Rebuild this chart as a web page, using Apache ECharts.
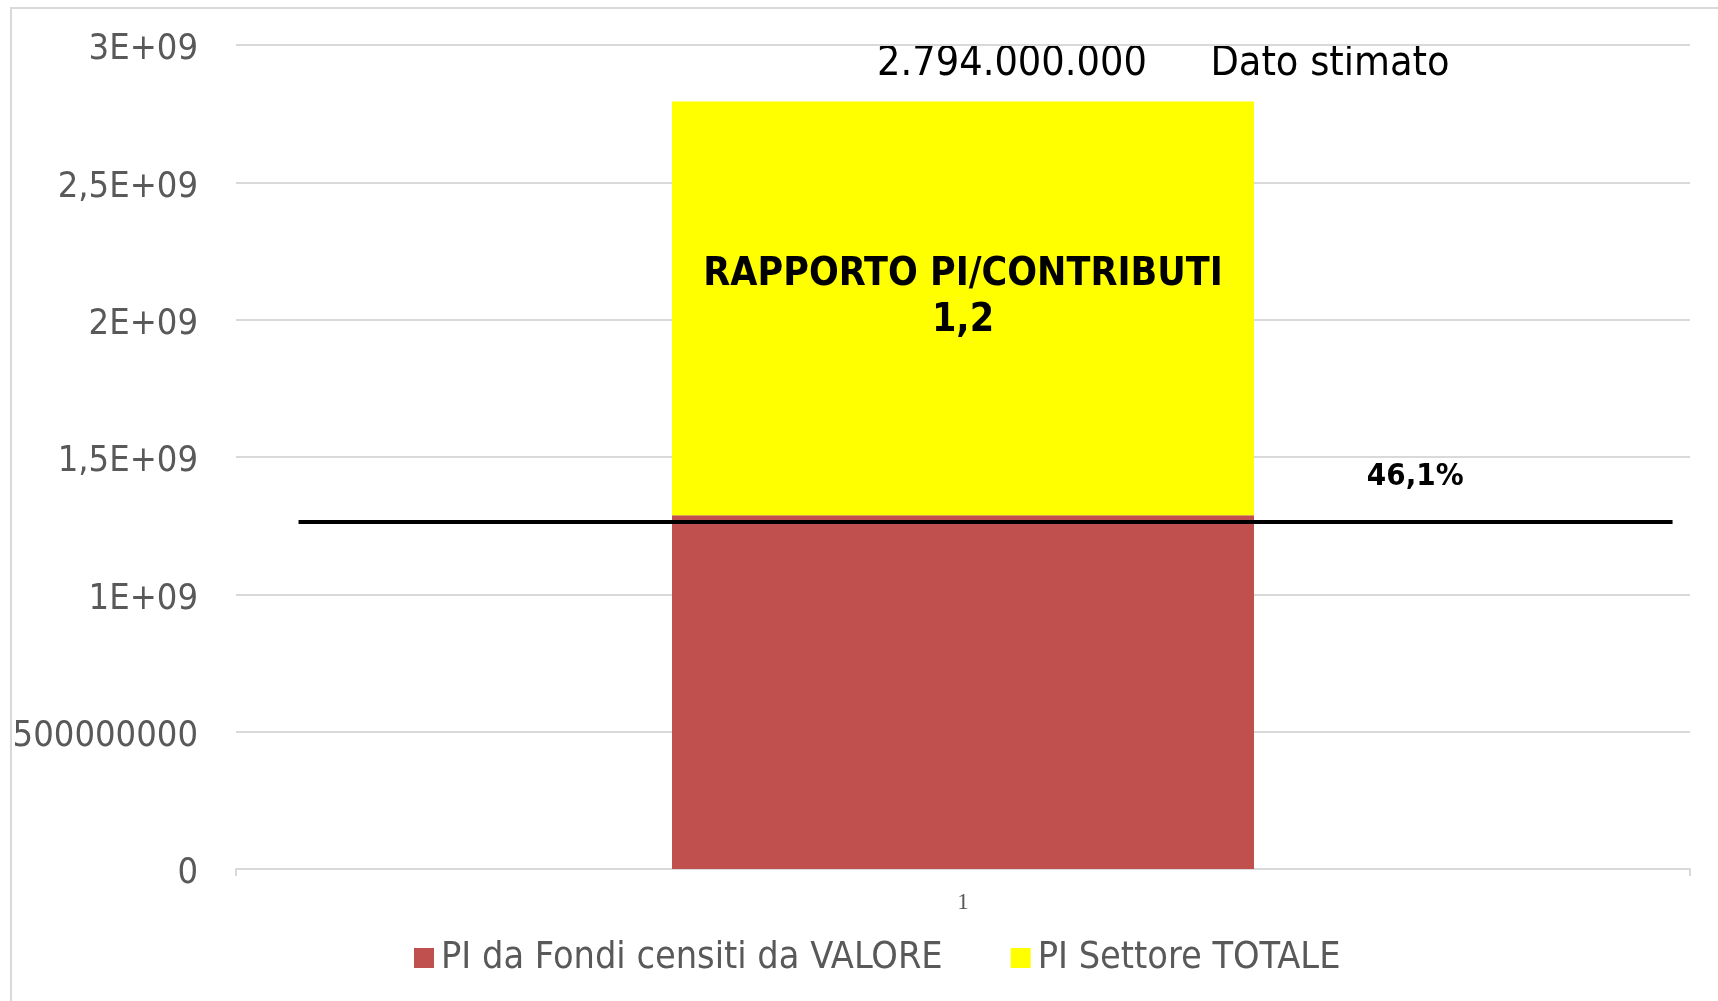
<!DOCTYPE html>
<html>
<head>
<meta charset="utf-8">
<script src="https://cdn.jsdelivr.net/npm/echarts@6/dist/echarts.min.js"></script>
<style>
  html, body { margin: 0; padding: 0; background: #fff; }
  #main { width: 1718px; height: 1001px; }
</style>
</head>
<body>
<div id="main"></div>
<script>
// categorie e valori
const categories = ['1'];
const fondiValore = [1288000000];      // PI da Fondi censiti da VALORE
const settoreTotale = [1506000000];    // PI Settore TOTALE (parte impilata, totale 2.794.000.000)
const yTickLabels = ['0', '500000000', '1E+09', '1,5E+09', '2E+09', '2,5E+09', '3E+09'];

// linea nera orizzontale (asse x secondario 0..1)
const soglia = 1263000000;
const sogliaX = [0.043, 0.811, 0.988];
const sogliaLabel = '46,1%';

const totaleText = '2.794.000.000';
const notaText = 'Dato stimato';
const rapportoText = 'RAPPORTO PI/CONTRIBUTI\n1,2';

const grey = '#595959';
const gridGrey = '#d9d9d9';
const condensed = '"DejaVu Sans Condensed", "DejaVu Sans", sans-serif';

const chart = echarts.init(document.getElementById('main'));

const option = {
  animation: false,
  backgroundColor: '#fff',
  grid: {
    left: 236,
    right: 28,
    top: 45,
    bottom: 132
  },
  legend: {
    left: 409,
    top: 933,
    icon: 'rect',
    itemWidth: 20,
    itemHeight: 20,
    itemGap: 68,
    data: ['PI da Fondi censiti da VALORE', 'PI Settore TOTALE'],
    textStyle: {
      fontFamily: condensed,
      fontSize: 37.5,
      lineHeight: 40,
      color: grey,
      padding: [0, 0, 0, 2]
    }
  },
  xAxis: [{
    type: 'category',
    data: categories,
    boundaryGap: true,
    axisLine: { lineStyle: { color: gridGrey, width: 2 } },
    axisTick: { show: true, length: 7, lineStyle: { color: gridGrey, width: 2 } },
    axisLabel: {
      margin: 22,
      fontFamily: '"Liberation Serif", serif',
      fontSize: 23,
      color: grey
    }
  }, {
    type: 'value',
    min: 0,
    max: 1,
    show: false
  }],
  yAxis: {
    type: 'value',
    min: 0,
    max: 3000000000,
    interval: 500000000,
    axisLine: { show: false },
    axisTick: { show: false },
    splitLine: { lineStyle: { color: gridGrey, width: 2 } },
    axisLabel: {
      margin: 38,
      formatter: function (v) {
        return '{t|' + yTickLabels[Math.round(v / 500000000)] + '}';
      },
      rich: {
        t: {
          fontFamily: condensed,
          fontSize: 36,
          color: grey,
          padding: [10, 0, 0, 0]
        }
      }
    }
  },
  series: [{
    name: 'PI da Fondi censiti da VALORE',
    type: 'bar',
    stack: 'tot',
    barWidth: 582,
    itemStyle: { color: '#c0504d' },
    data: fondiValore
  }, {
    name: 'PI Settore TOTALE',
    type: 'bar',
    stack: 'tot',
    barWidth: 582,
    itemStyle: { color: '#ffff00' },
    label: {
      show: true,
      position: 'insideTop',
      distance: 150,
      formatter: rapportoText,
      fontFamily: condensed,
      fontWeight: 'bold',
      fontSize: 39,
      lineHeight: 46,
      color: '#000',
      align: 'center'
    },
    data: settoreTotale
  }, {
    name: 'soglia',
    type: 'line',
    xAxisIndex: 1,
    symbol: 'circle',
    symbolSize: 0.1,
    lineStyle: { color: '#000', width: 4 },
    itemStyle: { color: '#000' },
    z: 5,
    data: sogliaX.map(function (x, i) {
      const item = { value: [x, soglia] };
      if (i === 1) {
        item.label = {
          show: true,
          position: 'top',
          distance: 30,
          formatter: sogliaLabel,
          fontFamily: condensed,
          fontWeight: 'bold',
          fontSize: 31,
          color: '#000'
        };
      }
      return item;
    })
  }],
  graphic: [{
    type: 'rect',
    shape: { x: 11, y: 8, width: 1800, height: 1100 },
    style: { fill: null, stroke: gridGrey, lineWidth: 2 },
    silent: true
  }, {
    type: 'text',
    x: 1012,
    y: 64,
    style: {
      text: totaleText,
      fontFamily: condensed,
      fontSize: 41,
      fill: '#000',
      align: 'center',
      verticalAlign: 'middle'
    }
  }, {
    type: 'text',
    x: 1330,
    y: 64,
    style: {
      text: notaText,
      fontFamily: condensed,
      fontSize: 41,
      fill: '#000',
      align: 'center',
      verticalAlign: 'middle'
    }
  }]
};

chart.setOption(option);
</script>
</body>
</html>
